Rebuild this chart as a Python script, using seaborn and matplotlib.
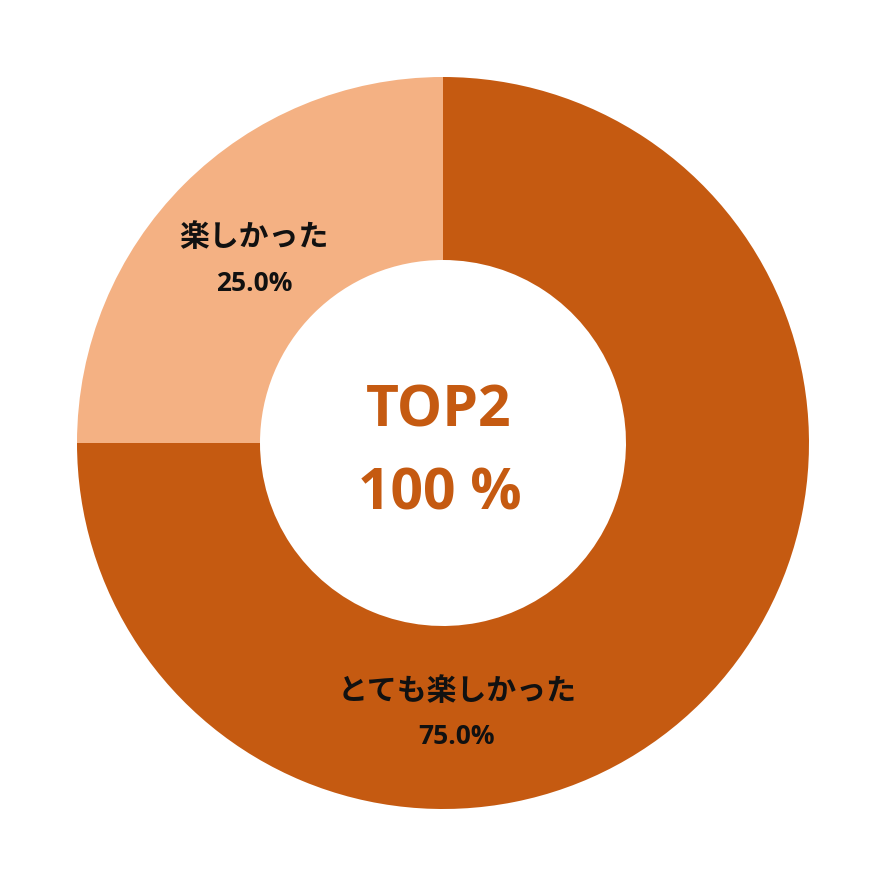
import matplotlib
matplotlib.use("Agg")
import matplotlib.pyplot as plt
import seaborn as sns
import numpy as np

sns.set_theme(style="white")
plt.rcParams["font.family"] = ["Open Sans", "Noto Sans CJK JP", "DejaVu Sans"]

# data
categories = ["とても楽しかった", "楽しかった"]
shares = [75.0, 25.0]
center_title = "TOP2"
center_value = "100 %"

colors = ["#C55A11", "#F4B183"]

fig = plt.figure(figsize=(8.86, 8.86), dpi=100)
ax = fig.add_axes([0, 0, 1, 1])
ax.pie(shares, colors=colors, startangle=90, counterclock=False,
       radius=1.0, wedgeprops=dict(width=0.5, linewidth=0))
lim = 443 / 366
ax.set_xlim(-lim, lim)
ax.set_ylim(-lim, lim)
ax.set_aspect("equal")
ax.axis("off")

# label spots (Excel "best fit" placement)
label_pos = [(0.038, -0.74), (-0.516, 0.50)]
cjk = ["Noto Sans CJK JP", "DejaVu Sans"]
for (x, y), name, val in zip(label_pos, categories, shares):
    ax.text(x, y + 0.063, name, ha="center", va="center", fontsize=21.5,
            family=cjk, fontweight="bold", color="#111111")
    ax.text(x, y - 0.063, f"{val:.1f}%", ha="center", va="center",
            fontsize=19, fontweight="bold", color="#111111")

ax.text(-0.012, 0.087, center_title, ha="center", va="center", fontsize=41,
        fontweight="bold", color="#C55A11")
ax.text(-0.01, -0.14, center_value, ha="center", va="center", fontsize=41,
        fontweight="bold", color="#C55A11")

fig.savefig("out.png", dpi=100, facecolor="white")
